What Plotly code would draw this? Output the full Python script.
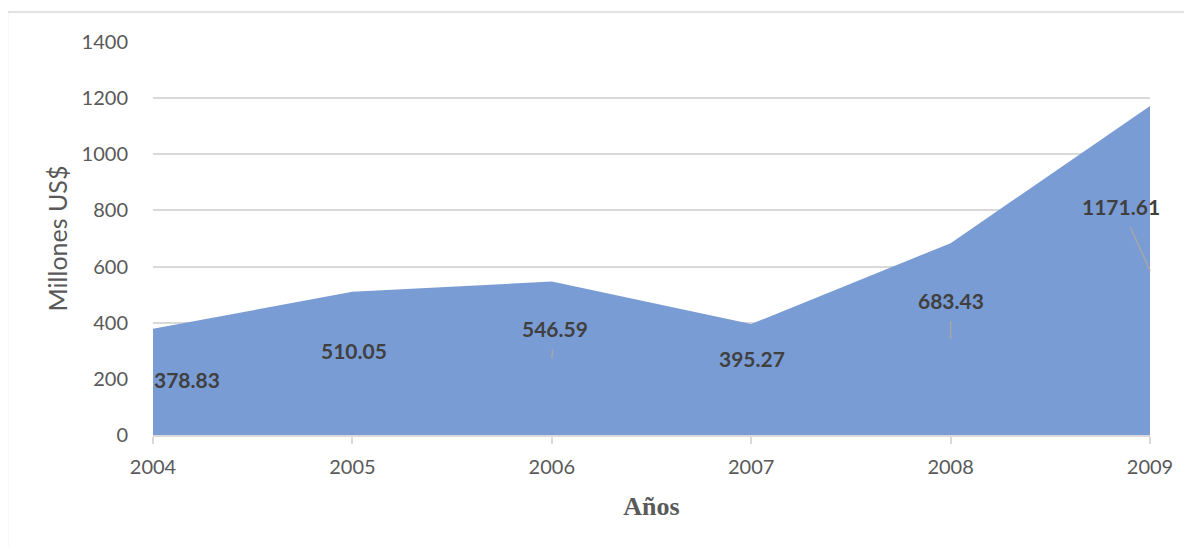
import plotly.graph_objects as go

years = [2004, 2005, 2006, 2007, 2008, 2009]
values = [378.83, 510.05, 546.59, 395.27, 683.43, 1171.61]
label_texts = ["378.83", "510.05", "546.59", "395.27", "683.43", "1171.61"]
# label offsets (pixels) from the label anchor at half height of the area
label_dx = [34, 2, 3, 1, 0, -29]
label_dy = [-2, -13, -30, -21, -39, -64]
has_leader = [False, False, True, False, True, True]

FILL = "#7A9CD4"
GRID = "#D9D9D9"
TXT = "#595959"
LBL = "#404040"
FONT = "Lato, 'Open Sans', sans-serif"

fig = go.Figure()
fig.add_trace(go.Scatter(
    x=years, y=values, mode="lines", fill="tozeroy",
    line=dict(color=FILL, width=0), fillcolor=FILL,
    hoverinfo="x+y", showlegend=False,
))

for x, v, t, dx, dy, lead in zip(years, values, label_texts, label_dx, label_dy, has_leader):
    fig.add_annotation(
        x=x, y=v / 2, text="<b>%s</b>" % t,
        showarrow=True, ax=dx, ay=dy, axref="pixel", ayref="pixel",
        arrowhead=0, arrowwidth=1.5, standoff=0, startstandoff=7,
        arrowcolor="#A6A6A6" if lead else "rgba(0,0,0,0)",
        font=dict(family=FONT, size=21, color=LBL),
    )

# chart border
fig.add_shape(type="rect", xref="paper", yref="paper",
              x0=-0.146, x1=1.06, y0=-0.32, y1=1.0763,
              line=dict(color=GRID, width=1.5), fillcolor="rgba(0,0,0,0)", layer="below")

fig.update_layout(
    width=1192, height=547,
    margin=dict(l=145, r=50, t=34, b=120),
    paper_bgcolor="white", plot_bgcolor="white",
    font=dict(family=FONT, size=20, color=TXT),
    xaxis=dict(
        range=[2004, 2009], tickmode="array", tickvals=years,
        ticktext=[str(y) for y in years],
        showgrid=False, zeroline=False,
        showline=True, linecolor=GRID, linewidth=1.5,
        ticks="outside", ticklen=7, tickcolor=GRID, tickwidth=1.5,
        ticklabelstandoff=6,
        tickfont=dict(family=FONT, size=20, color=TXT),
        title=dict(text="<b>Años</b>", standoff=20,
                   font=dict(family="'Liberation Serif', 'Times New Roman', serif", size=26, color=TXT)),
    ),
    yaxis=dict(
        range=[0, 1400], tickmode="array", tickvals=[0, 200, 400, 600, 800, 1000, 1200, 1400],
        showgrid=True, gridcolor=GRID, gridwidth=1.5,
        zeroline=False, showline=False, ticks="",
        ticklabelstandoff=24,
        tickfont=dict(family=FONT, size=20, color=TXT),
        title=dict(text="Millones US$", standoff=6,
                   font=dict(family=FONT, size=25, color=TXT)),
    ),
)

fig.write_html("out.html")
